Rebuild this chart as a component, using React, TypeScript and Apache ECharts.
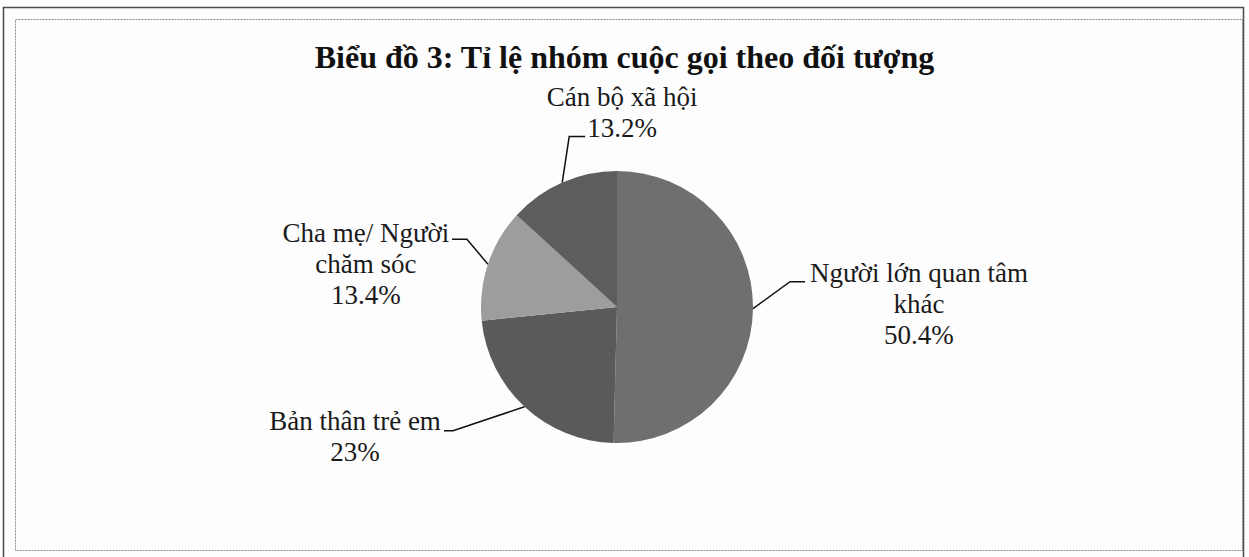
import React, { useEffect, useRef } from "react";
import * as echarts from "echarts";

// ---- data ----
const TITLE = "Biểu đồ 3: Tỉ lệ nhóm cuộc gọi theo đối tượng";
const categories = [
  "Người lớn quan tâm\nkhác",
  "Bản thân trẻ em",
  "Cha mẹ/ Người\nchăm sóc",
  "Cán bộ xã hội",
];
const values = [50.4, 23, 13.4, 13.2];
const sliceColors = ["#6f6f6f", "#5a5a5a", "#9d9d9d", "#5d5d5d"];

// ---- label layout (offsets from each slice's edge anchor) ----
const labelLayoutCfg = [
  { tx: 166, ty: -51.5, p1: [37, -27], p2: [52, -27] },
  { tx: -169.5, ty: -1.5, p1: [-71.5, 24], p2: [-80.5, 24] },
  { tx: -122, ty: -46.5, p1: [-21, -25], p2: [-36, -25] },
  { tx: 60, ty: -101.5, p1: [7, -46], p2: [23, -46] },
];

const FONT = "'Liberation Serif', 'Times New Roman', serif";
const CX = 617;
const CY = 307;
const R = 136;

function fallbackAnchor(i: number): [number, number] {
  const total = values.reduce((a, b) => a + b, 0);
  let start = 90;
  for (let k = 0; k < i; k++) start -= (values[k] / total) * 360;
  const mid = start - (values[i] / total) * 180;
  const rad = (mid * Math.PI) / 180;
  return [CX + R * Math.cos(rad), CY - R * Math.sin(rad)];
}

export default function App() {
  const ref = useRef<HTMLDivElement>(null);
  useEffect(() => {
    if (!ref.current) return;
    const chart = echarts.init(ref.current, undefined, { renderer: "svg" });
    chart.setOption({
      animation: false,
      backgroundColor: "#fdfdfe",
      title: {
        text: TITLE,
        left: "center",
        top: 41,
        padding: [0, 0, 0, 9],
        textStyle: {
          fontFamily: FONT,
          fontWeight: "bold",
          fontSize: 32,
          color: "#111",
        },
      },
      graphic: [
        {
          type: "rect",
          shape: { x: 3.5, y: 7.5, width: 1240, height: 570 },
          style: { fill: "none", stroke: "#4a4a4a", lineWidth: 1.5 },
          silent: true,
        },
        {
          type: "rect",
          shape: { x: 15.5, y: 19.5, width: 1227, height: 531 },
          style: { fill: "none", stroke: "#8a8a8a", lineWidth: 1, lineDash: [2, 1] },
          silent: true,
        },
      ],
      series: [
        {
          type: "pie",
          center: [CX, CY],
          radius: R,
          startAngle: 90,
          clockwise: true,
          avoidLabelOverlap: false,
          data: categories.map((name, i) => ({
            name,
            value: values[i],
            itemStyle: { color: sliceColors[i] },
          })),
          itemStyle: { borderWidth: 0 },
          emphasis: { disabled: true },
          label: {
            show: true,
            position: "outside",
            formatter: "{b}\n{c}%",
            fontFamily: FONT,
            fontSize: 27,
            lineHeight: 31,
            color: "#1a1a1a",
          },
          labelLine: {
            show: true,
            length: 20,
            length2: 10,
            smooth: false,
            lineStyle: { color: "#111", width: 1.5 },
          },
          labelLayout: (params: any) => {
            const i = params.dataIndex;
            const cfg = labelLayoutCfg[i];
            const pts = params.labelLinePoints;
            const [ax, ay] =
              pts && pts[0] ? (pts[0] as [number, number]) : fallbackAnchor(i);
            return {
              x: ax + cfg.tx,
              y: ay + cfg.ty,
              align: "center",
              verticalAlign: "top",
              labelLinePoints: [
                [ax, ay],
                [ax + cfg.p1[0], ay + cfg.p1[1]],
                [ax + cfg.p2[0], ay + cfg.p2[1]],
              ],
            };
          },
        },
      ],
    });
    return () => chart.dispose();
  }, []);
  return (
    <div
      ref={ref}
      style={{ position: "fixed", left: 0, top: 0, width: 1249, height: 557 }}
    />
  );
}
